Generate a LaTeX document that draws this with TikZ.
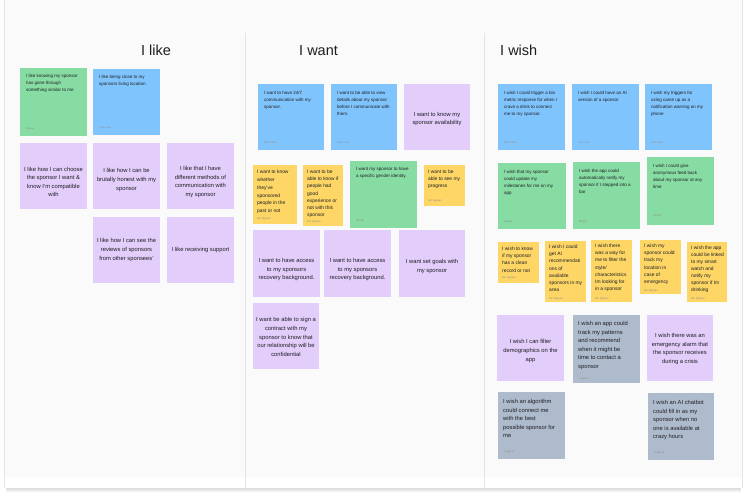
\documentclass[tikz,border=0pt]{standalone}
\usepackage{fontspec}
\setmainfont{Liberation Sans}
\usetikzlibrary{positioning}
\definecolor{boardgray}{RGB}{250,250,250}
\definecolor{ruleline}{RGB}{228,228,228}
\definecolor{ink}{RGB}{30,30,34}
\definecolor{stickygreen}{RGB}{135,220,164}
\definecolor{stickyblue}{RGB}{128,196,253}
\definecolor{stickylilac}{RGB}{226,205,251}
\definecolor{stickyyellow}{RGB}{253,214,102}
\definecolor{stickygray}{RGB}{174,187,205}

\begin{document}
\begin{tikzpicture}[x=1pt, y=-1pt, text=ink,
      note/.style={anchor=north west, inner sep=0pt, outer sep=0pt,
                   minimum width=67pt, minimum height=66pt},
      tab/.style={anchor=north west, inner sep=0pt, outer sep=0pt,
                  minimum width=41pt, minimum height=#1},
      memo/.style={anchor=north west, inner sep=0pt, align=left,
                   font=\fontsize{4.5}{7}\selectfont},
      jot/.style={anchor=north west, inner sep=0pt, align=left,
                  font=\fontsize{4.9}{7.1}\selectfont},
      plea/.style={inner sep=0pt, align=center,
                   font=\fontsize{5.8}{8.6}\selectfont},
      plealeft/.style={anchor=north west, inner sep=0pt, align=left,
                       font=\fontsize{5.8}{8.6}\selectfont},
      who/.style={anchor=south west, inner sep=0pt, text=black!45,
                  font=\fontsize{2.6}{3}\selectfont},
      coltitle/.style={anchor=base west, inner sep=0pt,
                       font=\fontsize{14.5}{17}\selectfont}]
    \useasboundingbox (0,0) rectangle (747,497);
    % board
    \fill[black!6] (6,486) rectangle (741,492);
    \fill[black!12] (6,486) rectangle (741,490);
    \fill[white] (4,0) rectangle (742,488);
    \fill[boardgray] (4,0) rectangle (742,477);
    \draw[ruleline, line width=0.6pt] (4,0) -- (4,488) (742,0) -- (742,488);
    \draw[ruleline, line width=0.6pt] (245,33) -- (245,488) (484,33) -- (484,488);

    \node[coltitle] (tlike) at (141,56) {I like};
    \node[coltitle] (twant) at (299,56) {I want};
    \node[coltitle] (twish) at (500,56) {I wish};

    % I like
    \node[note, fill=stickygreen, minimum height=68pt] (like1) at (20,68) {};
    \node[memo] (like1t) at ([shift={(6,6)}]like1.north west) {I like knowing my sponsor\\has gone through\\something similar to me};
    \node[who] (like1w) at ([shift={(6,-6)}]like1.south west) {Rainey};
    \node[note, fill=stickyblue] (like2) at (93,69) {};
    \node[memo] (like2t) at ([shift={(6,6)}]like2.north west) {I like being close to my\\sponsors living location.};
    \node[who] (like2w) at ([shift={(6,-6)}]like2.south west) {Tyler Lane};
    \node[note, fill=stickylilac] (like3) at (20,143) {};
    \node[plea] (like3t) at ([yshift=-6]like3.center) {I like how I can choose\\the sponsor I want \&\\know I'm compatible\\with};
    \node[note, fill=stickylilac] (like4) at (93,143) {};
    \node[plea] (like4t) at ([yshift=-4]like4.center) {I like how I can be\\brutally honest with my\\sponsor};
    \node[note, fill=stickylilac] (like5) at (167,143) {};
    \node[plea] (like5t) at ([yshift=-6]like5.center) {I like that I have\\different methods of\\communication with\\my sponsor};
    \node[note, fill=stickylilac] (like6) at (93,217) {};
    \node[plea] (like6t) at (like6.center) {I like how I can see the\\reviews of sponsors\\from other sponsees'};
    \node[note, fill=stickylilac] (like7) at (167,217) {};
    \node[plea] (like7t) at (like7.center) {I like receiving support};

    % I want
    \node[note, fill=stickyblue, minimum width=66pt] (want1) at (258,84) {};
    \node[memo] (want1t) at ([shift={(6,7)}]want1.north west) {I want to have 24/7\\communication with my\\sponsor.};
    \node[who] (want1w) at ([shift={(6,-6)}]want1.south west) {Tyler Lane};
    \node[note, fill=stickyblue, minimum width=66pt] (want2) at (331,84) {};
    \node[memo] (want2t) at ([shift={(6,7)}]want2.north west) {I want to be able to view\\details about my sponsor\\before I communicate with\\them.};
    \node[who] (want2w) at ([shift={(6,-6)}]want2.south west) {Tyler Lane};
    \node[note, fill=stickylilac, minimum width=66pt] (want3) at (404,84) {};
    \node[plea] (want3t) at ([yshift=-2]want3.center) {I want to know my\\sponsor availability};
    \node[tab=59pt, fill=stickyyellow, minimum width=44pt] (want4) at (253,165) {};
    \node[jot, font=\fontsize{4.9}{7.8}\selectfont] (want4t) at ([shift={(4,5)}]want4.north west) {I want to know\\whether\\they've\\sponsored\\people in the\\past or not};
    \node[who] (want4w) at ([shift={(4,-4)}]want4.south west) {Em Nguyen};
    \node[tab=61pt, fill=stickyyellow, minimum width=40pt] (want5) at (303,165) {};
    \node[jot] (want5t) at ([shift={(4,5)}]want5.north west) {I want to be\\able to know if\\people had\\good\\experience or\\not with this\\sponsor};
    \node[who] (want5w) at ([shift={(4,-3)}]want5.south west) {Em Nguyen};
    \node[note, fill=stickygreen, minimum height=67pt] (want6) at (350,161) {};
    \node[memo] (want6t) at ([shift={(6,6)}]want6.north west) {I want my sponsor to have\\a specific gender identity.};
    \node[who] (want6w) at ([shift={(6,-6)}]want6.south west) {Wendy};
    \node[tab=41pt, fill=stickyyellow] (want7) at (424,165) {};
    \node[jot] (want7t) at ([shift={(4,5)}]want7.north west) {I want to be\\able to see my\\progress};
    \node[who] (want7w) at ([shift={(4,-4)}]want7.south west) {Em Nguyen};
    \node[note, fill=stickylilac, minimum height=67pt] (want8) at (253,230) {};
    \node[plea] (want8t) at ([yshift=-6]want8.center) {I want to have access\\to my sponsors\\recovery background.};
    \node[note, fill=stickylilac, minimum height=67pt] (want9) at (324,230) {};
    \node[plea] (want9t) at ([yshift=-6]want9.center) {I want to have access\\to my sponsors\\recovery background.};
    \node[note, fill=stickylilac, minimum width=66pt, minimum height=67pt] (want10) at (399,230) {};
    \node[plea] (want10t) at ([yshift=-3]want10.center) {I want set goals with\\my sponsor};
    \node[note, fill=stickylilac, minimum width=66pt] (want11) at (253,303) {};
    \node[plea] (want11t) at ([yshift=-1]want11.center) {I want be able to sign a\\contract with my\\sponsor to know that\\our relationship will be\\confidential};

    % I wish
    \node[note, fill=stickyblue] (wish1) at (498,84) {};
    \node[memo] (wish1t) at ([shift={(6,7)}]wish1.north west) {I wish I could trigger a bio\\metric response for when I\\crave a drink to connect\\me to my sponsor.};
    \node[who] (wish1w) at ([shift={(6,-6)}]wish1.south west) {Tyler Lane};
    \node[note, fill=stickyblue] (wish2) at (572,84) {};
    \node[memo] (wish2t) at ([shift={(6,7)}]wish2.north west) {I wish I could have an AI\\version of a sponsor};
    \node[who] (wish2w) at ([shift={(6,-6)}]wish2.south west) {Tyler Lane};
    \node[note, fill=stickyblue] (wish3) at (645,84) {};
    \node[memo] (wish3t) at ([shift={(6,7)}]wish3.north west) {I wish my triggers for\\using came up as a\\notification warning on my\\phone};
    \node[who] (wish3w) at ([shift={(6,-6)}]wish3.south west) {Tyler Lane};
    \node[note, fill=stickygreen, minimum width=68pt] (wish4) at (498,163) {};
    \node[memo] (wish4t) at ([shift={(6,7)}]wish4.north west) {I wish that my sponsor\\could update my\\milestones for me on my\\app};
    \node[who] (wish4w) at ([shift={(6,-6)}]wish4.south west) {Mandy};
    \node[note, fill=stickygreen, minimum height=67pt] (wish5) at (573,162) {};
    \node[memo] (wish5t) at ([shift={(6,7)}]wish5.north west) {I wish the app could\\automatically notify my\\sponsor if I stepped into a\\bar};
    \node[who] (wish5w) at ([shift={(6,-6)}]wish5.south west) {Mandy};
    \node[note, fill=stickygreen, minimum height=68pt] (wish6) at (647,157) {};
    \node[memo] (wish6t) at ([shift={(6,7)}]wish6.north west) {I wish I could give\\anonymous feed back\\about my sponsor at any\\time};
    \node[who] (wish6w) at ([shift={(6,-8)}]wish6.south west) {Wendy};
    \node[tab=41pt, fill=stickyyellow] (wish7) at (498,242) {};
    \node[jot] (wish7t) at ([shift={(4,5)}]wish7.north west) {I wish to know\\if my sponsor\\has a clean\\record or not};
    \node[who] (wish7w) at ([shift={(4,-4)}]wish7.south west) {Em Nguyen};
    \node[tab=61pt, fill=stickyyellow] (wish8) at (545,241) {};
    \node[jot] (wish8t) at ([shift={(4,4)}]wish8.north west) {I wish I could\\get AI\\recommendati\\ons of\\available\\sponsors in my\\area};
    \node[who] (wish8w) at ([shift={(4,-2)}]wish8.south west) {Em Nguyen};
    \node[tab=62pt, fill=stickyyellow] (wish9) at (591,240) {};
    \node[jot] (wish9t) at ([shift={(4,4)}]wish9.north west) {I wish there\\was a way for\\me to filter the\\style/\\characteristics\\Im looking for\\in a sponsor};
    \node[who] (wish9w) at ([shift={(4,-2)}]wish9.south west) {Em Nguyen};
    \node[tab=54pt, fill=stickyyellow] (wish10) at (640,240) {};
    \node[jot] (wish10t) at ([shift={(4,4)}]wish10.north west) {I wish my\\sponsor could\\track my\\location in\\case of\\emergency};
    \node[who] (wish10w) at ([shift={(4,-2)}]wish10.south west) {Em Nguyen};
    \node[tab=60pt, fill=stickyyellow, minimum width=40pt] (wish11) at (687,242) {};
    \node[jot] (wish11t) at ([shift={(4,3.5)}]wish11.north west) {I wish the app\\could be linked\\to my smart\\watch and\\notify my\\sponsor if Im\\drinking};
    \node[who] (wish11w) at ([shift={(4,-1.5)}]wish11.south west) {Em Nguyen};
    \node[note, fill=stickylilac] (wish12) at (497,315) {};
    \node[plea] (wish12t) at ([yshift=-3]wish12.center) {I wish I can filter\\demographics on the\\app};
    \node[note, fill=stickygray, minimum height=68pt] (wish13) at (573,315) {};
    \node[plealeft] (wish13t) at ([shift={(5,6)}]wish13.north west) {I wish an app could\\track my patterns\\and recommend\\when it might be\\time to contact a\\sponsor};
    \node[who] (wish13w) at ([shift={(6,-3)}]wish13.south west) {Logan H.};
    \node[note, fill=stickylilac, minimum width=66pt] (wish14) at (647,315) {};
    \node[plea] (wish14t) at ([yshift=-1]wish14.center) {I wish there was an\\emergency alarm that\\the sponsor receives\\during a crisis};
    \node[note, fill=stickygray, minimum height=67pt] (wish15) at (498,392) {};
    \node[plealeft] (wish15t) at ([shift={(5,7)}]wish15.north west) {I wish an algorithm\\could connect me\\with the best\\possible sponsor for\\me};
    \node[who] (wish15w) at ([shift={(6,-6)}]wish15.south west) {Logan H.};
    \node[note, fill=stickygray, minimum width=66pt, minimum height=67pt] (wish16) at (648,393) {};
    \node[plealeft] (wish16t) at ([shift={(5,7)}]wish16.north west) {I wish an AI chatbot\\could fill in as my\\sponsor when no\\one is available at\\crazy hours};
    \node[who] (wish16w) at ([shift={(6,-6)}]wish16.south west) {Logan H.};
\end{tikzpicture}
\end{document}
